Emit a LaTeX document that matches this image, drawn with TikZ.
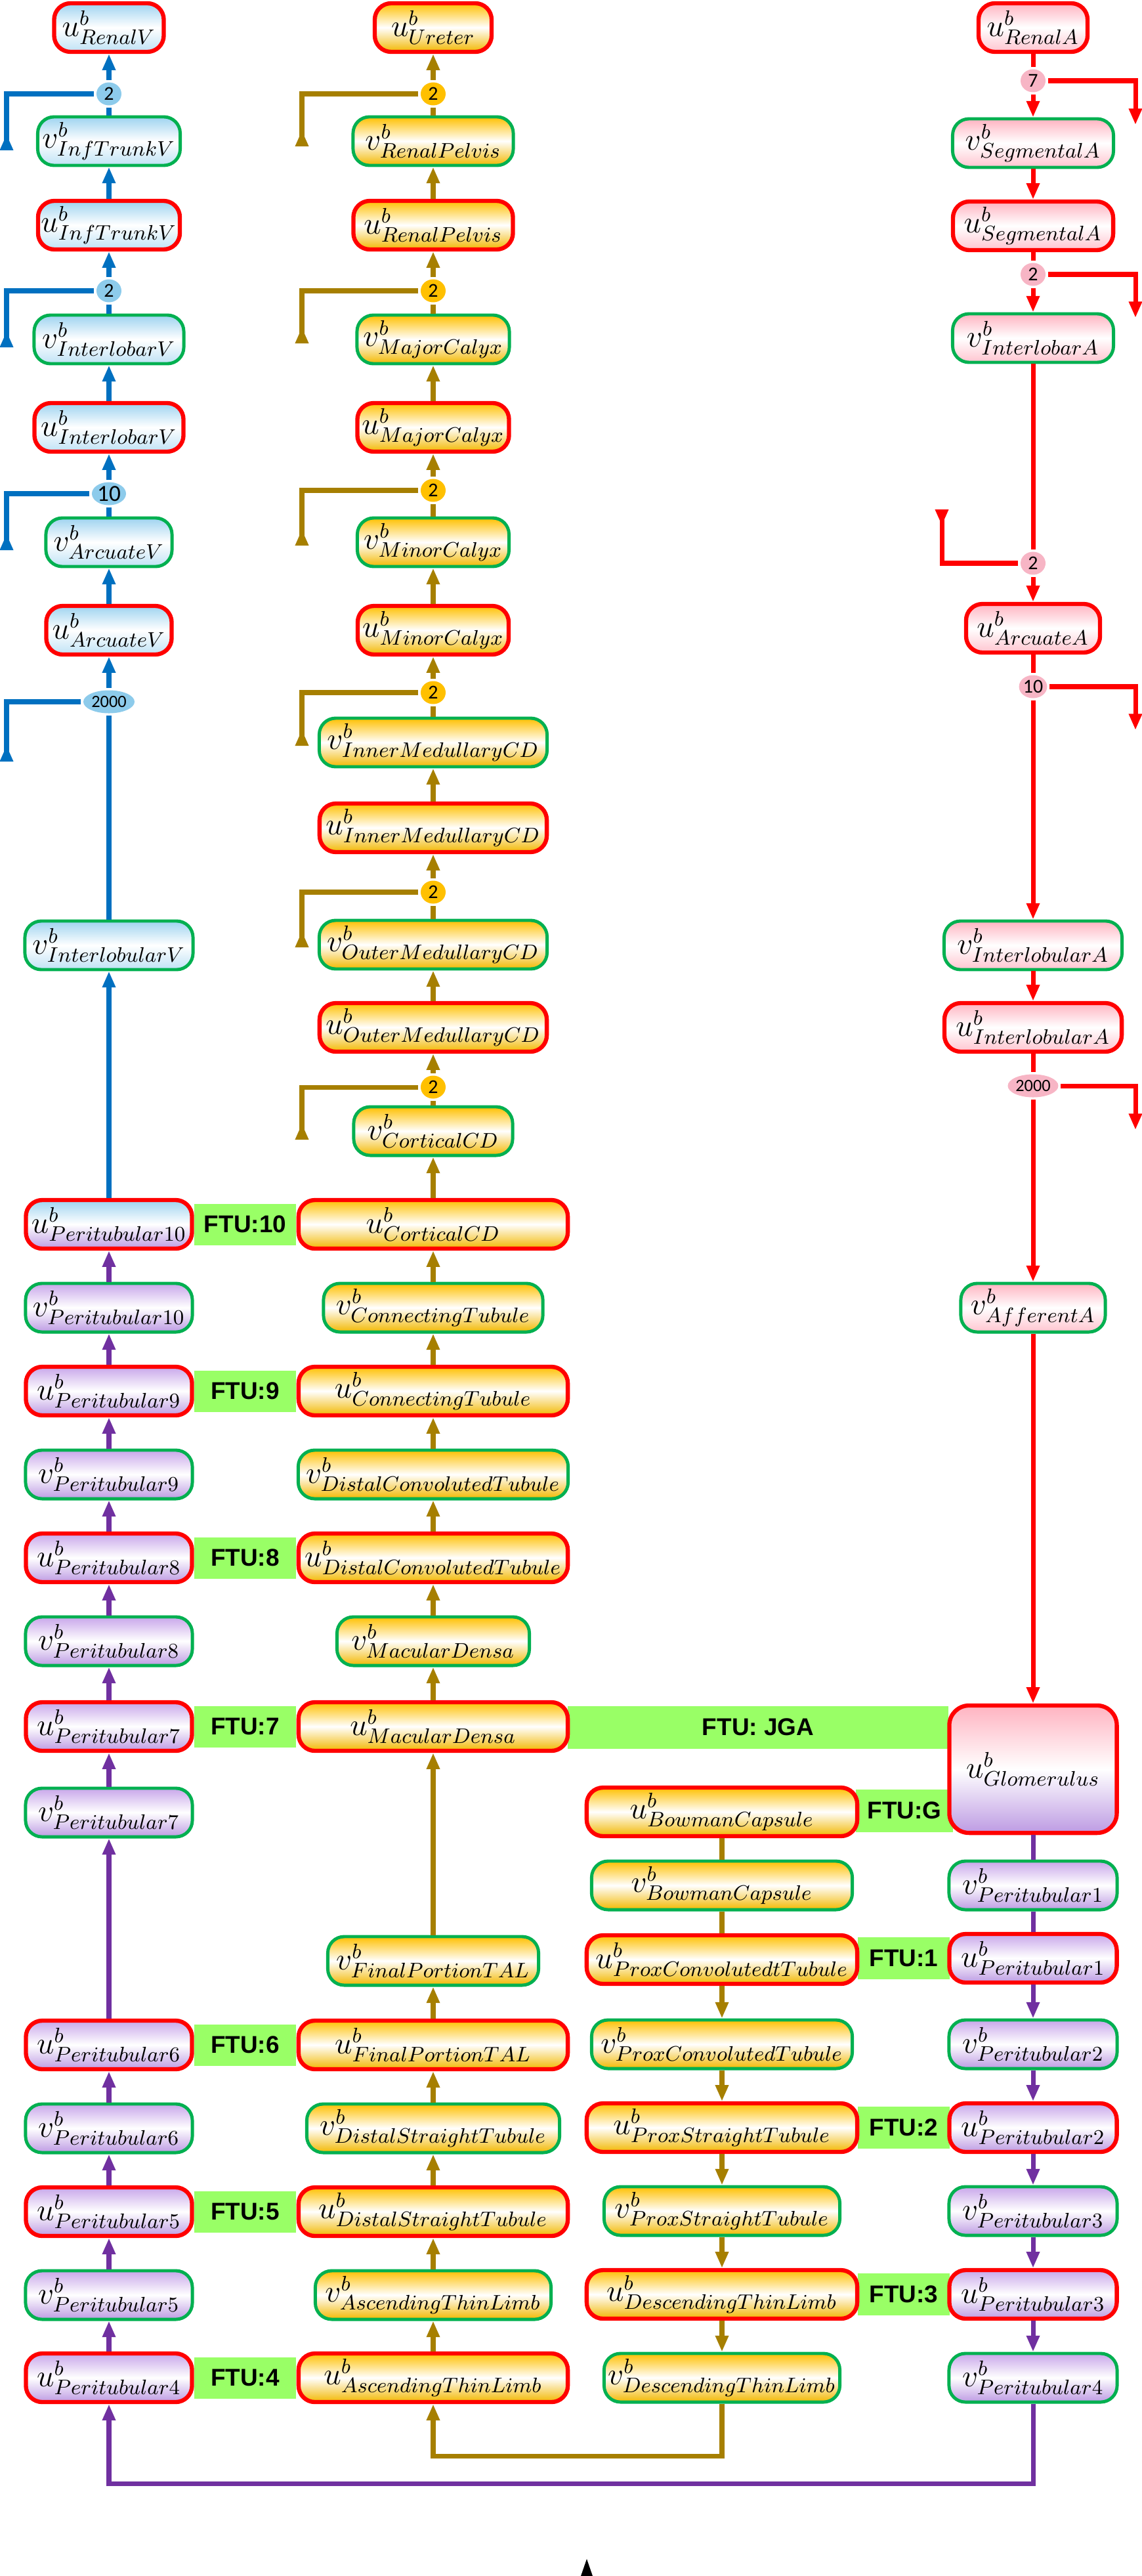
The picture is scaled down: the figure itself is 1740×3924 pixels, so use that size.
\RequirePackage{fix-cm}
\documentclass[tikz,border=0pt]{standalone}
\usepackage{fontspec}
\newfontfamily\ftufont{Liberation Sans}
\newfontfamily\splitfont{Carlito}
\usetikzlibrary{arrows.meta,shapes.geometric}
\DeclareMathSizes{13.5}{13.5}{9.1}{7}

\definecolor{VeinBlue}{HTML}{0070C0}
\definecolor{UrineGold}{HTML}{A67F00}
\definecolor{ArteryRed}{HTML}{FF0000}
\definecolor{CapPurple}{HTML}{7030A0}
\definecolor{BoxRed}{HTML}{FF0000}
\definecolor{BoxGreen}{HTML}{00B050}
\definecolor{FTUGreen}{HTML}{99FF66}
\definecolor{VeinSplit}{HTML}{8DCBEB}
\definecolor{UrineSplit}{HTML}{FFC000}
\definecolor{ArterySplit}{HTML}{F7B5C5}
\definecolor{VeinTop}{HTML}{9ED3F0}
\definecolor{VeinBottom}{HTML}{BFE2F5}
\definecolor{UrineTop}{HTML}{FFC000}
\definecolor{UrineBottom}{HTML}{F2B800}
\definecolor{ArteryTop}{HTML}{FFB3C1}
\definecolor{ArteryBottom}{HTML}{FFC4CF}
\definecolor{CapTop}{HTML}{C8A6EA}
\definecolor{CapBottom}{HTML}{BD9BE3}

\tikzset{box/.style={rounded corners=0.25cm, minimum height=0.74cm, inner sep=0pt, font=\fontsize{13.5}{16}\selectfont}}
\tikzset{ubox/.style={box, draw=BoxRed, line width=1.8pt}}
\tikzset{vbox/.style={box, draw=BoxGreen, line width=1.4pt}}
\tikzset{vein/.style={top color=VeinTop, bottom color=VeinBottom, middle color=white}}
\tikzset{urine/.style={top color=UrineTop, bottom color=UrineBottom, middle color=white}}
\tikzset{artery/.style={top color=ArteryTop, bottom color=ArteryBottom, middle color=white}}
\tikzset{capillary/.style={top color=CapTop, bottom color=CapBottom, middle color=white}}
\tikzset{ftu/.style={fill=FTUGreen, inner sep=0pt, font=\ftufont\bfseries\fontsize{10.5}{12}\selectfont}}
\tikzset{split/.style={ellipse, inner sep=0pt, minimum width=0.38cm, minimum height=0.35cm, font=\splitfont\fontsize{8.5}{10}\selectfont}}
\tikzset{intake/.style={-{Triangle[reversed, width=5.4pt, length=7pt]}}}

\begin{document}
\begin{tikzpicture}[x=0.01cm, y=-0.01cm, line width=2pt, >={Triangle[width=5.4pt, length=7pt]}]

	\useasboundingbox (0,0) rectangle (1740,3924);

	\node[ftu, minimum width=1.55cm, minimum height=0.63cm] (ftu-10) at (373.5,1865) {FTU:10};
	\node[ftu, minimum width=1.55cm, minimum height=0.63cm] (ftu-9) at (373.5,2119) {FTU:9};
	\node[ftu, minimum width=1.55cm, minimum height=0.63cm] (ftu-8) at (373.5,2373) {FTU:8};
	\node[ftu, minimum width=1.55cm, minimum height=0.63cm] (ftu-7) at (373.5,2630) {FTU:7};
	\node[ftu, minimum width=1.55cm, minimum height=0.63cm] (ftu-6) at (373.5,3115) {FTU:6};
	\node[ftu, minimum width=1.55cm, minimum height=0.63cm] (ftu-5) at (373.5,3369) {FTU:5};
	\node[ftu, minimum width=1.55cm, minimum height=0.63cm] (ftu-4) at (373.5,3622) {FTU:4};
	\node[ftu, minimum width=5.80cm, minimum height=0.65cm] (ftu-jga) at (1155,2631) {FTU: JGA};
	\node[ftu, minimum width=1.48cm, minimum height=0.65cm] (ftu-g) at (1378,2758) {FTU:G};
	\node[ftu, minimum width=1.40cm, minimum height=0.64cm] (ftu-1) at (1377,2983) {FTU:1};
	\node[ftu, minimum width=1.40cm, minimum height=0.64cm] (ftu-2) at (1377,3241) {FTU:2};
	\node[ftu, minimum width=1.40cm, minimum height=0.64cm] (ftu-3) at (1377,3495) {FTU:3};

	\node[ubox, vein, minimum width=1.67cm] (u-renalv) at (166,42) {$u^{b}_{RenalV}$};
	\node[split, fill=VeinSplit] (s-renalv) at (166,143) {2};
	\node[vbox, vein, minimum width=2.17cm] (v-inftrunkv) at (166,215) {$v^{b}_{InfTrunkV}$};
	\node[ubox, vein, minimum width=2.16cm] (u-inftrunkv) at (166,343) {$u^{b}_{InfTrunkV}$};
	\node[split, fill=VeinSplit] (s-inftrunkv) at (166,443) {2};
	\node[vbox, vein, minimum width=2.28cm] (v-interlobarv) at (166,517) {$v^{b}_{InterlobarV}$};
	\node[ubox, vein, minimum width=2.27cm] (u-interlobarv) at (166,651) {$u^{b}_{InterlobarV}$};
	\node[split, fill=VeinSplit, minimum width=0.52cm, font=\splitfont\fontsize{10}{12}\selectfont] (s-interlobarv) at (166,752) {10};
	\node[vbox, vein, minimum width=1.92cm] (v-arcuatev) at (166,826) {$v^{b}_{ArcuateV}$};
	\node[ubox, vein, minimum width=1.91cm] (u-arcuatev) at (166,960) {$u^{b}_{ArcuateV}$};
	\node[split, fill=VeinSplit, minimum width=0.78cm, font=\splitfont\fontsize{7.5}{9}\selectfont] (s-arcuatev) at (166,1069) {2000};
	\node[vbox, vein, minimum width=2.56cm] (v-interlobularv) at (166,1440) {$v^{b}_{InterlobularV}$};

	\node[ubox, top color=VeinTop, bottom color=CapBottom, middle color=white, minimum width=2.53cm] (u-peri10) at (166,1865) {$u^{b}_{Peritubular10}$};
	\node[vbox, capillary, minimum width=2.54cm] (v-peri10) at (166,1992) {$v^{b}_{Peritubular10}$};
	\node[ubox, capillary, minimum width=2.53cm] (u-peri9) at (166,2119) {$u^{b}_{Peritubular9}$};
	\node[vbox, capillary, minimum width=2.54cm] (v-peri9) at (166,2246) {$v^{b}_{Peritubular9}$};
	\node[ubox, capillary, minimum width=2.53cm] (u-peri8) at (166,2373) {$u^{b}_{Peritubular8}$};
	\node[vbox, capillary, minimum width=2.54cm] (v-peri8) at (166,2500) {$v^{b}_{Peritubular8}$};
	\node[ubox, capillary, minimum width=2.53cm] (u-peri7) at (166,2630) {$u^{b}_{Peritubular7}$};
	\node[vbox, capillary, minimum width=2.54cm] (v-peri7) at (166,2761) {$v^{b}_{Peritubular7}$};
	\node[ubox, capillary, minimum width=2.53cm] (u-peri6) at (166,3115) {$u^{b}_{Peritubular6}$};
	\node[vbox, capillary, minimum width=2.54cm] (v-peri6) at (166,3242) {$v^{b}_{Peritubular6}$};
	\node[ubox, capillary, minimum width=2.53cm] (u-peri5) at (166,3369) {$u^{b}_{Peritubular5}$};
	\node[vbox, capillary, minimum width=2.54cm] (v-peri5) at (166,3496) {$v^{b}_{Peritubular5}$};
	\node[ubox, capillary, minimum width=2.53cm] (u-peri4) at (166,3622) {$u^{b}_{Peritubular4}$};

	\node[ubox, urine, minimum width=1.78cm] (u-ureter) at (660,42) {$u^{b}_{Ureter}$};
	\node[split, fill=UrineSplit] (s-ureter) at (660,143) {2};
	\node[vbox, urine, minimum width=2.44cm] (v-renalpelvis) at (660,215) {$v^{b}_{RenalPelvis}$};
	\node[ubox, urine, minimum width=2.43cm] (u-renalpelvis) at (660,343) {$u^{b}_{RenalPelvis}$};
	\node[split, fill=UrineSplit] (s-renalpelvis) at (660,443) {2};
	\node[vbox, urine, minimum width=2.32cm] (v-majorcalyx) at (660,517) {$v^{b}_{MajorCalyx}$};
	\node[ubox, urine, minimum width=2.31cm] (u-majorcalyx) at (660,651) {$u^{b}_{MajorCalyx}$};
	\node[split, fill=UrineSplit] (s-majorcalyx) at (660,747) {2};
	\node[vbox, urine, minimum width=2.31cm] (v-minorcalyx) at (660,826) {$v^{b}_{MinorCalyx}$};
	\node[ubox, urine, minimum width=2.30cm] (u-minorcalyx) at (660,960) {$u^{b}_{MinorCalyx}$};
	\node[split, fill=UrineSplit] (s-minorcalyx) at (660,1055) {2};
	\node[vbox, urine, minimum width=3.47cm] (v-innercd) at (660,1131) {$v^{b}_{InnerMedullaryCD}$};
	\node[ubox, urine, minimum width=3.46cm] (u-innercd) at (660,1261) {$u^{b}_{InnerMedullaryCD}$};
	\node[split, fill=UrineSplit] (s-innercd) at (660,1359) {2};
	\node[vbox, urine, minimum width=3.47cm] (v-outercd) at (660,1439) {$v^{b}_{OuterMedullaryCD}$};
	\node[ubox, urine, minimum width=3.46cm] (u-outercd) at (660,1565) {$u^{b}_{OuterMedullaryCD}$};
	\node[split, fill=UrineSplit] (s-outercd) at (660,1656) {2};
	\node[vbox, urine, minimum width=2.42cm] (v-corticalcd) at (660,1723) {$v^{b}_{CorticalCD}$};
	\node[ubox, urine, minimum width=4.10cm] (u-corticalcd) at (660,1865) {$u^{b}_{CorticalCD}$};
	\node[vbox, urine, minimum width=3.34cm] (v-connecting) at (660,1992) {$v^{b}_{ConnectingTubule}$};
	\node[ubox, urine, minimum width=4.10cm] (u-connecting) at (660,2119) {$u^{b}_{ConnectingTubule}$};
	\node[vbox, urine, minimum width=4.11cm] (v-distalconv) at (660,2246) {$v^{b}_{DistalConvolutedTubule}$};
	\node[ubox, urine, minimum width=4.10cm] (u-distalconv) at (660,2373) {$u^{b}_{DistalConvolutedTubule}$};
	\node[vbox, urine, minimum width=2.93cm] (v-macula) at (660,2500) {$v^{b}_{MacularDensa}$};
	\node[ubox, urine, minimum width=4.10cm] (u-macula) at (660,2630) {$u^{b}_{MacularDensa}$};
	\node[vbox, urine, minimum width=3.21cm] (v-finaltal) at (660,2987) {$v^{b}_{FinalPortionTAL}$};
	\node[ubox, urine, minimum width=4.10cm] (u-finaltal) at (660,3115) {$u^{b}_{FinalPortionTAL}$};
	\node[vbox, urine, minimum width=3.85cm] (v-distalstraight) at (660,3242) {$v^{b}_{DistalStraightTubule}$};
	\node[ubox, urine, minimum width=4.10cm] (u-distalstraight) at (660,3369) {$u^{b}_{DistalStraightTubule}$};
	\node[vbox, urine, minimum width=3.59cm] (v-ascending) at (660,3496) {$v^{b}_{AscendingThinLimb}$};
	\node[ubox, urine, minimum width=4.10cm] (u-ascending) at (660,3622) {$u^{b}_{AscendingThinLimb}$};

	\node[ubox, urine, minimum width=4.12cm] (u-bowman) at (1100,2760) {$u^{b}_{BowmanCapsule}$};
	\node[vbox, urine, minimum width=3.97cm] (v-bowman) at (1100,2872) {$v^{b}_{BowmanCapsule}$};
	\node[ubox, urine, minimum width=4.12cm] (u-proxconv) at (1100,2985) {$u^{b}_{ProxConvolutedtTubule}$};
	\node[vbox, urine, minimum width=3.97cm] (v-proxconv) at (1100,3114) {$v^{b}_{ProxConvolutedTubule}$};
	\node[ubox, urine, minimum width=4.12cm] (u-proxstraight) at (1100,3241) {$u^{b}_{ProxStraightTubule}$};
	\node[vbox, urine, minimum width=3.59cm] (v-proxstraight) at (1100,3368) {$v^{b}_{ProxStraightTubule}$};
	\node[ubox, urine, minimum width=4.12cm] (u-descending) at (1100,3495) {$u^{b}_{DescendingThinLimb}$};
	\node[vbox, urine, minimum width=3.59cm] (v-descending) at (1100,3622) {$v^{b}_{DescendingThinLimb}$};

	\node[ubox, artery, minimum width=1.66cm] (u-renala) at (1574,42) {$u^{b}_{RenalA}$};
	\node[split, fill=ArterySplit] (s-renala) at (1574,123) {7};
	\node[vbox, artery, minimum width=2.45cm] (v-segmentala) at (1574,218) {$v^{b}_{SegmentalA}$};
	\node[ubox, artery, minimum width=2.44cm] (u-segmentala) at (1574,344) {$u^{b}_{SegmentalA}$};
	\node[split, fill=ArterySplit] (s-segmentala) at (1574,418) {2};
	\node[vbox, artery, minimum width=2.45cm] (v-interlobara) at (1574,515) {$v^{b}_{InterlobarA}$};
	\node[split, fill=ArterySplit] (s-interlobara) at (1574,858) {2};
	\node[ubox, artery, minimum width=2.04cm] (u-arcuatea) at (1574,957) {$u^{b}_{ArcuateA}$};
	\node[split, fill=ArterySplit, minimum width=0.40cm] (s-arcuatea) at (1574,1046) {10};
	\node[vbox, artery, minimum width=2.71cm] (v-interlobulara) at (1574,1440) {$v^{b}_{InterlobularA}$};
	\node[ubox, artery, minimum width=2.70cm] (u-interlobulara) at (1574,1565) {$u^{b}_{InterlobularA}$};
	\node[split, fill=ArterySplit, minimum width=0.77cm, font=\splitfont\fontsize{7.5}{9}\selectfont] (s-interlobulara) at (1574,1654) {2000};
	\node[vbox, artery, minimum width=2.20cm] (v-afferenta) at (1574,1992) {$v^{b}_{AfferentA}$};
	\node[ubox, top color=ArteryTop, bottom color=CapBottom, middle color=white, minimum width=2.55cm, minimum height=1.94cm, rounded corners=0.3cm] (u-glomerulus) at (1574,2695) {$u^{b}_{Glomerulus}$};
	\node[vbox, capillary, minimum width=2.56cm] (v-peri1) at (1574,2872) {$v^{b}_{Peritubular1}$};
	\node[ubox, capillary, minimum width=2.55cm] (u-peri1) at (1574,2983) {$u^{b}_{Peritubular1}$};
	\node[vbox, capillary, minimum width=2.56cm] (v-peri2) at (1574,3114) {$v^{b}_{Peritubular2}$};
	\node[ubox, capillary, minimum width=2.55cm] (u-peri2) at (1574,3241) {$u^{b}_{Peritubular2}$};
	\node[vbox, capillary, minimum width=2.56cm] (v-peri3) at (1574,3368) {$v^{b}_{Peritubular3}$};
	\node[ubox, capillary, minimum width=2.55cm] (u-peri3) at (1574,3495) {$u^{b}_{Peritubular3}$};
	\node[vbox, capillary, minimum width=2.56cm] (v-peri4) at (1574,3622) {$v^{b}_{Peritubular4}$};

	\coordinate (in-renalv) at (10,229);
	\coordinate (in-inftrunkv) at (10,529);
	\coordinate (in-interlobarv) at (10,838);
	\coordinate (in-arcuatev) at (10,1160);
	\coordinate (in-ureter) at (460,223);
	\coordinate (in-renalpelvis) at (460,523);
	\coordinate (in-majorcalyx) at (460,831);
	\coordinate (in-minorcalyx) at (460,1136);
	\coordinate (in-innercd) at (460,1443);
	\coordinate (in-outercd) at (460,1736);
	\coordinate (in-interlobara) at (1435,776);
	\coordinate (out-renala) at (1730,190);
	\coordinate (out-segmentala) at (1730,484);
	\coordinate (out-arcuatea) at (1730,1112);
	\coordinate (out-interlobulara) at (1730,1721);
	\coordinate (loop-capillary) at (870,3783);
	\coordinate (loop-tubule) at (880,3741);

	\draw[VeinBlue] (v-inftrunkv) -- (s-renalv);
	\draw[->, VeinBlue] (s-renalv) -- (u-renalv);
	\draw[intake, VeinBlue] (s-renalv) -| (in-renalv);
	\draw[->, VeinBlue] (u-inftrunkv) -- (v-inftrunkv);
	\draw[VeinBlue] (v-interlobarv) -- (s-inftrunkv);
	\draw[->, VeinBlue] (s-inftrunkv) -- (u-inftrunkv);
	\draw[intake, VeinBlue] (s-inftrunkv) -| (in-inftrunkv);
	\draw[->, VeinBlue] (u-interlobarv) -- (v-interlobarv);
	\draw[VeinBlue] (v-arcuatev) -- (s-interlobarv);
	\draw[->, VeinBlue] (s-interlobarv) -- (u-interlobarv);
	\draw[intake, VeinBlue] (s-interlobarv) -| (in-interlobarv);
	\draw[->, VeinBlue] (u-arcuatev) -- (v-arcuatev);
	\draw[VeinBlue] (v-interlobularv) -- (s-arcuatev);
	\draw[->, VeinBlue] (s-arcuatev) -- (u-arcuatev);
	\draw[intake, VeinBlue] (s-arcuatev) -| (in-arcuatev);
	\draw[->, VeinBlue] (u-peri10) -- (v-interlobularv);

	\draw[->, CapPurple] (v-peri10) -- (u-peri10);
	\draw[->, CapPurple] (u-peri9) -- (v-peri10);
	\draw[->, CapPurple] (v-peri9) -- (u-peri9);
	\draw[->, CapPurple] (u-peri8) -- (v-peri9);
	\draw[->, CapPurple] (v-peri8) -- (u-peri8);
	\draw[->, CapPurple] (u-peri7) -- (v-peri8);
	\draw[->, CapPurple] (v-peri7) -- (u-peri7);
	\draw[->, CapPurple] (u-peri6) -- (v-peri7);
	\draw[->, CapPurple] (v-peri6) -- (u-peri6);
	\draw[->, CapPurple] (u-peri5) -- (v-peri6);
	\draw[->, CapPurple] (v-peri5) -- (u-peri5);
	\draw[->, CapPurple] (u-peri4) -- (v-peri5);

	\draw[UrineGold] (v-renalpelvis) -- (s-ureter);
	\draw[->, UrineGold] (s-ureter) -- (u-ureter);
	\draw[intake, UrineGold] (s-ureter) -| (in-ureter);
	\draw[->, UrineGold] (u-renalpelvis) -- (v-renalpelvis);
	\draw[UrineGold] (v-majorcalyx) -- (s-renalpelvis);
	\draw[->, UrineGold] (s-renalpelvis) -- (u-renalpelvis);
	\draw[intake, UrineGold] (s-renalpelvis) -| (in-renalpelvis);
	\draw[->, UrineGold] (u-majorcalyx) -- (v-majorcalyx);
	\draw[UrineGold] (v-minorcalyx) -- (s-majorcalyx);
	\draw[->, UrineGold] (s-majorcalyx) -- (u-majorcalyx);
	\draw[intake, UrineGold] (s-majorcalyx) -| (in-majorcalyx);
	\draw[->, UrineGold] (u-minorcalyx) -- (v-minorcalyx);
	\draw[UrineGold] (v-innercd) -- (s-minorcalyx);
	\draw[->, UrineGold] (s-minorcalyx) -- (u-minorcalyx);
	\draw[intake, UrineGold] (s-minorcalyx) -| (in-minorcalyx);
	\draw[->, UrineGold] (u-innercd) -- (v-innercd);
	\draw[UrineGold] (v-outercd) -- (s-innercd);
	\draw[->, UrineGold] (s-innercd) -- (u-innercd);
	\draw[intake, UrineGold] (s-innercd) -| (in-innercd);
	\draw[->, UrineGold] (u-outercd) -- (v-outercd);
	\draw[UrineGold] (v-corticalcd) -- (s-outercd);
	\draw[->, UrineGold] (s-outercd) -- (u-outercd);
	\draw[intake, UrineGold] (s-outercd) -| (in-outercd);
	\draw[->, UrineGold] (u-corticalcd) -- (v-corticalcd);
	\draw[->, UrineGold] (v-connecting) -- (u-corticalcd);
	\draw[->, UrineGold] (u-connecting) -- (v-connecting);
	\draw[->, UrineGold] (v-distalconv) -- (u-connecting);
	\draw[->, UrineGold] (u-distalconv) -- (v-distalconv);
	\draw[->, UrineGold] (v-macula) -- (u-distalconv);
	\draw[->, UrineGold] (u-macula) -- (v-macula);
	\draw[->, UrineGold] (v-finaltal) -- (u-macula);
	\draw[->, UrineGold] (u-finaltal) -- (v-finaltal);
	\draw[->, UrineGold] (v-distalstraight) -- (u-finaltal);
	\draw[->, UrineGold] (u-distalstraight) -- (v-distalstraight);
	\draw[->, UrineGold] (v-ascending) -- (u-distalstraight);
	\draw[->, UrineGold] (u-ascending) -- (v-ascending);

	\draw[UrineGold] (u-bowman) -- (v-bowman);
	\draw[UrineGold] (v-bowman) -- (u-proxconv);
	\draw[->, UrineGold] (u-proxconv) -- (v-proxconv);
	\draw[->, UrineGold] (v-proxconv) -- (u-proxstraight);
	\draw[->, UrineGold] (u-proxstraight) -- (v-proxstraight);
	\draw[->, UrineGold] (v-proxstraight) -- (u-descending);
	\draw[->, UrineGold] (u-descending) -- (v-descending);
	\draw[->, UrineGold] (v-descending.south) |- (loop-tubule) -| (u-ascending.south);

	\draw[ArteryRed] (u-renala) -- (s-renala);
	\draw[->, ArteryRed] (s-renala) -- (v-segmentala);
	\draw[->, ArteryRed] (s-renala) -| (out-renala);
	\draw[->, ArteryRed] (v-segmentala) -- (u-segmentala);
	\draw[ArteryRed] (u-segmentala) -- (s-segmentala);
	\draw[->, ArteryRed] (s-segmentala) -- (v-interlobara);
	\draw[->, ArteryRed] (s-segmentala) -| (out-segmentala);
	\draw[ArteryRed] (v-interlobara) -- (s-interlobara);
	\draw[->, ArteryRed] (s-interlobara) -- (u-arcuatea);
	\draw[intake, ArteryRed] (s-interlobara) -| (in-interlobara);
	\draw[ArteryRed] (u-arcuatea) -- (s-arcuatea);
	\draw[->, ArteryRed] (s-arcuatea) -- (v-interlobulara);
	\draw[->, ArteryRed] (s-arcuatea) -| (out-arcuatea);
	\draw[->, ArteryRed] (v-interlobulara) -- (u-interlobulara);
	\draw[ArteryRed] (u-interlobulara) -- (s-interlobulara);
	\draw[->, ArteryRed] (s-interlobulara) -- (v-afferenta);
	\draw[->, ArteryRed] (s-interlobulara) -| (out-interlobulara);
	\draw[->, ArteryRed] (v-afferenta) -- (u-glomerulus);

	\draw[CapPurple] (u-glomerulus) -- (v-peri1);
	\draw[CapPurple] (v-peri1) -- (u-peri1);
	\draw[->, CapPurple] (u-peri1) -- (v-peri2);
	\draw[->, CapPurple] (v-peri2) -- (u-peri2);
	\draw[->, CapPurple] (u-peri2) -- (v-peri3);
	\draw[->, CapPurple] (v-peri3) -- (u-peri3);
	\draw[->, CapPurple] (u-peri3) -- (v-peri4);
	\draw[->, CapPurple] (v-peri4.south) |- (loop-capillary) -| (u-peri4.south);

	\fill (894,3898) -- (903,3924) -- (885,3924) -- cycle;

\end{tikzpicture}
\end{document}
